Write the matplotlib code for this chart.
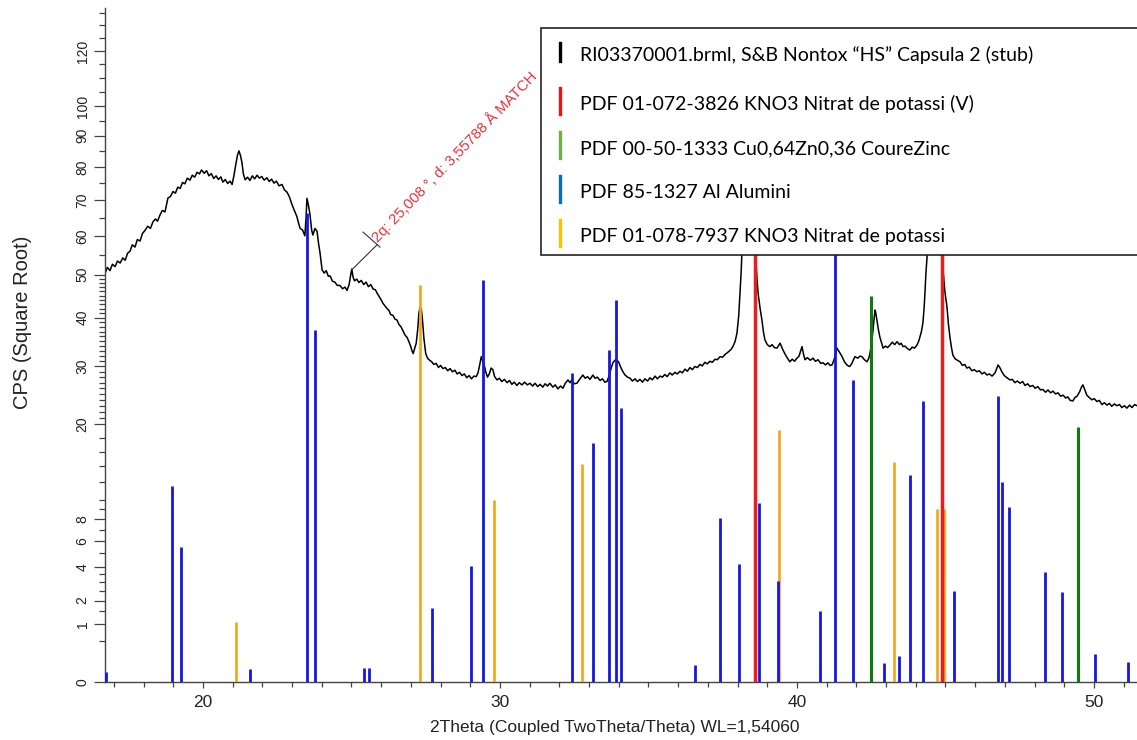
import numpy as np
import matplotlib
matplotlib.use("Agg")
import matplotlib.pyplot as plt
from matplotlib.lines import Line2D
from matplotlib.patches import Rectangle

# ---------------- data ----------------
two_theta = [
16.70,16.78,16.87,16.95,17.04,17.12,17.21,17.30,17.38,17.46,17.54,17.62,17.71,17.79,17.88,17.96,
18.05,18.14,18.23,18.32,18.40,18.47,18.55,18.63,18.72,18.78,18.82,18.90,18.99,19.07,19.15,19.23,
19.31,19.39,19.47,19.56,19.64,19.72,19.80,19.88,19.95,20.04,20.12,20.20,20.28,20.36,20.44,20.52,
20.60,20.67,20.75,20.83,20.91,20.98,21.04,21.10,21.16,21.21,21.26,21.31,21.36,21.42,21.50,21.58,
21.66,21.74,21.82,21.90,21.98,22.06,22.15,22.23,22.31,22.39,22.47,22.56,22.66,22.74,22.83,22.91,
23.00,23.08,23.16,23.22,23.27,23.35,23.43,23.47,23.50,23.55,23.60,23.66,23.70,23.77,23.84,23.89,
23.94,24.01,24.08,24.15,24.22,24.28,24.36,24.44,24.52,24.61,24.70,24.78,24.85,24.92,24.97,25.01,
25.05,25.10,25.18,25.25,25.33,25.41,25.49,25.57,25.65,25.73,25.80,25.86,25.93,26.00,26.06,26.13,
26.20,26.26,26.32,26.40,26.46,26.53,26.60,26.67,26.73,26.80,26.87,26.94,26.99,27.04,27.08,27.13,
27.18,27.23,27.27,27.31,27.35,27.39,27.44,27.50,27.56,27.63,27.70,27.77,27.85,27.93,28.00,28.08,
28.16,28.24,28.32,28.40,28.48,28.56,28.64,28.72,28.80,28.88,28.96,29.04,29.12,29.20,29.26,29.32,
29.37,29.42,29.46,29.52,29.58,29.64,29.70,29.76,29.82,29.90,29.98,30.06,30.15,30.24,30.32,30.40,
30.48,30.57,30.65,30.74,30.83,30.92,31.01,31.10,31.18,31.27,31.35,31.44,31.52,31.60,31.68,31.78,
31.86,31.95,32.04,32.12,32.20,32.29,32.36,32.42,32.50,32.59,32.68,32.79,32.87,32.95,33.03,33.13,
33.20,33.28,33.37,33.45,33.53,33.60,33.66,33.70,33.75,33.80,33.87,33.94,34.00,34.04,34.12,34.21,
34.30,34.38,34.46,34.55,34.63,34.71,34.80,34.88,34.97,35.05,35.13,35.22,35.30,35.39,35.47,35.55,
35.63,35.72,35.80,35.89,35.97,36.06,36.14,36.23,36.31,36.40,36.48,36.56,36.65,36.73,36.81,36.90,
36.98,37.07,37.15,37.24,37.32,37.41,37.50,37.57,37.64,37.72,37.79,37.85,37.92,37.98,38.04,38.08,
38.12,38.15,38.22,38.30,38.38,38.46,38.53,38.60,38.65,38.69,38.76,38.82,38.87,38.92,39.00,39.09,
39.16,39.24,39.33,39.38,39.43,39.48,39.53,39.60,39.68,39.76,39.84,39.92,40.00,40.07,40.13,40.17,
40.22,40.27,40.35,40.45,40.54,40.62,40.71,40.80,40.88,40.96,41.04,41.12,41.18,41.23,41.28,41.35,
41.43,41.52,41.60,41.68,41.73,41.78,41.85,41.95,42.05,42.12,42.19,42.27,42.36,42.42,42.46,42.51,
42.56,42.60,42.63,42.66,42.69,42.74,42.79,42.85,42.90,42.98,43.05,43.13,43.21,43.29,43.37,43.45,
43.51,43.57,43.64,43.72,43.80,43.88,43.96,44.04,44.10,44.14,44.19,44.24,44.28,44.31,44.34,44.38,
44.44,44.52,44.60,44.68,44.76,44.84,44.92,44.98,45.05,45.10,45.15,45.20,45.25,45.32,45.40,45.49,
45.57,45.65,45.72,45.80,45.89,45.97,46.06,46.14,46.23,46.31,46.40,46.48,46.57,46.67,46.72,46.77,
46.83,46.90,46.98,47.07,47.17,47.25,47.34,47.42,47.51,47.60,47.68,47.77,47.85,47.94,48.02,48.11,
48.20,48.28,48.37,48.45,48.54,48.62,48.71,48.79,48.88,48.96,49.05,49.12,49.20,49.29,49.36,49.43,
49.52,49.58,49.63,49.70,49.76,49.84,49.93,50.01,50.10,50.18,50.27,50.35,50.44,50.52,50.60,50.69,
50.77,50.86,50.94,51.03,51.11,51.20,51.28,51.37,51.45]

cps = [
50.3,51.8,51.0,52.6,52.0,53.4,52.9,54.2,53.6,55.4,55.9,57.6,57.0,59.0,58.6,60.6,
61.5,62.6,62.0,63.9,64.6,64.0,65.7,67.0,66.6,69.0,70.6,71.0,72.5,72.0,73.8,73.4,
75.2,74.8,76.5,75.9,77.4,76.8,78.3,77.8,79.0,78.0,78.8,77.2,77.9,76.4,77.2,76.1,
76.9,75.3,76.1,74.9,75.6,74.6,77.2,80.5,83.6,85.0,83.6,81.4,77.8,76.0,76.8,75.8,
77.2,76.3,77.4,76.5,77.0,75.9,76.6,75.5,76.2,75.0,75.6,74.2,74.6,73.0,72.3,70.9,
68.6,66.9,65.3,63.4,62.0,61.6,60.0,65.0,70.5,68.5,66.0,61.5,60.2,62.0,61.2,58.0,
55.5,51.2,50.4,51.0,49.6,49.7,48.4,48.2,47.4,47.4,46.6,47.0,46.2,47.6,49.8,51.4,
49.5,48.5,48.9,48.1,48.6,47.6,48.2,47.1,47.6,46.5,46.4,45.6,44.8,44.0,43.2,42.6,
42.0,41.6,40.7,40.5,39.7,39.5,38.5,38.0,37.2,36.3,35.8,34.8,34.0,33.0,32.5,33.6,
34.6,37.5,41.0,42.3,42.0,39.5,35.5,32.5,31.6,31.2,30.9,30.4,30.6,29.8,30.2,29.6,
29.8,29.2,29.6,29.0,29.3,28.6,28.9,28.3,28.6,27.9,28.3,27.7,28.2,28.1,28.8,30.4,
31.9,31.0,30.5,29.0,28.0,28.6,29.7,29.4,28.1,27.5,27.8,27.2,27.6,27.0,27.4,26.7,
27.1,26.5,27.0,26.6,27.1,26.6,26.9,26.4,26.9,26.3,26.7,26.2,26.8,26.4,26.9,26.2,
26.6,25.9,26.4,26.0,26.9,27.5,27.0,27.5,26.8,26.9,27.6,28.4,27.8,28.1,27.6,28.4,
27.8,28.0,27.4,27.7,27.1,27.2,28.0,28.8,29.8,30.7,31.2,31.2,30.8,30.2,29.2,28.4,
28.0,27.8,27.3,27.7,27.2,27.6,27.1,27.7,27.3,27.9,27.5,28.2,27.7,28.2,28.0,28.5,
28.1,28.8,28.4,28.9,28.6,29.1,28.8,29.5,29.1,29.8,29.4,30.0,29.8,30.4,30.1,30.8,
30.5,31.0,30.8,31.4,31.3,31.9,31.8,32.3,32.6,33.0,33.4,34.0,35.0,36.7,40.5,45.6,
50.5,56.3,72.0,95.0,112.0,95.0,72.0,56.0,49.5,45.6,42.0,39.5,37.0,35.3,34.3,33.9,
34.3,33.7,33.6,34.1,34.6,33.9,33.2,32.4,31.6,30.9,31.4,31.0,31.6,32.0,33.1,33.9,
32.4,31.3,31.7,31.2,31.6,31.0,31.3,30.6,30.7,30.3,30.7,30.2,30.3,31.0,31.9,33.6,
32.8,31.9,30.9,30.3,30.1,30.0,30.6,31.9,31.6,32.0,31.9,31.3,30.9,31.6,32.6,34.5,
37.3,40.0,41.7,40.8,39.5,37.5,35.9,34.6,33.6,34.0,33.7,34.2,34.8,34.3,34.9,34.3,
34.6,33.9,34.0,33.5,33.2,33.8,33.6,34.2,35.0,35.9,37.0,38.8,42.0,45.6,50.0,54.4,
66.0,90.0,115.0,100.0,80.0,62.0,51.2,46.0,42.5,38.6,35.9,33.8,32.2,31.5,31.2,30.9,
30.2,30.4,29.7,29.9,29.2,29.4,29.0,29.2,28.6,28.9,28.4,28.6,28.2,28.8,29.5,30.3,
29.8,29.0,28.3,27.9,27.5,27.6,27.0,27.3,26.9,27.2,26.5,26.8,26.3,26.5,26.0,26.3,
25.7,25.8,25.3,25.7,25.2,25.5,25.0,25.2,24.6,24.8,24.3,24.5,23.9,23.8,24.4,24.6,
25.4,26.2,26.6,25.6,24.8,24.4,24.0,24.2,23.7,23.9,23.2,23.5,23.1,23.4,22.9,23.3,
23.0,23.2,22.7,23.0,22.6,23.1,22.7,23.2,23.0]

# reference patterns (stick positions, 2theta, and heights)
al_pos = [16.72, 18.96, 19.26, 21.58, 23.50, 23.77, 25.42, 25.59, 27.71, 29.02, 29.43,
          32.42, 33.13, 33.67, 33.90, 34.07, 36.57, 37.41, 38.05, 38.72, 39.36, 40.77,
          41.28, 41.89, 42.93, 43.43, 43.80, 44.24, 45.29, 46.77, 46.90, 47.14, 48.35,
          48.92, 50.03, 51.14]
al_int = [0.03, 11.6, 5.5, 0.05, 66.3, 37.3, 0.06, 0.06, 1.65, 4.06, 48.7,
          28.8, 17.2, 33.2, 44.0, 22.6, 0.09, 8.1, 4.2, 9.7, 3.1, 1.5,
          100.0, 27.5, 0.11, 0.20, 12.9, 23.8, 2.5, 24.6, 12.1, 9.2, 3.65,
          2.45, 0.24, 0.12]

kno3v_pos = [38.59, 44.88]
kno3v_int = [120.0, 120.0]

cuzn_pos = [42.49, 49.46]
cuzn_int = [44.9, 19.6]

kno3_pos = [21.11, 27.31, 29.80, 32.76, 39.39, 43.27, 44.71, 44.95]
kno3_int = [1.09, 47.5, 10.0, 14.3, 19.1, 14.6, 9.0, 9.0]

legend_labels = [
    "RI03370001.brml, S&B Nontox \u201cHS\u201d Capsula 2 (stub)",
    "PDF 01-072-3826 KNO3 Nitrat de potassi (V)",
    "PDF 00-50-1333 Cu0,64Zn0,36 CoureZinc",
    "PDF 85-1327 Al Alumini",
    "PDF 01-078-7937 KNO3 Nitrat de potassi",
]
legend_colors = ["#000000", "#ee1111", "#70ad47", "#0070c0", "#ffc000"]

y_major = [0, 1, 2, 4, 6, 8, 20, 30, 40, 50, 60, 70, 80, 90, 100, 120]
y_minor = ([0.5, 1.5, 2.5, 3, 3.5, 5, 7, 9, 10, 12, 14, 16, 18]
           + list(range(21, 30)) + list(range(31, 40)) + list(range(41, 50))
           + [55, 65, 75, 85, 95, 105, 110, 115, 125, 130, 135])
x_major = [20, 30, 40, 50]
x_minor = list(range(17, 52))

annot_text = "2q: 25,008 \u00b0, d: 3,55788 \u00c5 MATCH"

# ---------------- figure ----------------
plt.rcParams["font.family"] = ["Liberation Sans", "DejaVu Sans"]
W, H = 1137, 740
fig = plt.figure(figsize=(W / 100, H / 100), dpi=100)
ax = fig.add_axes([105 / W, (H - 682) / H, 1 - 105 / W, (682 - 8) / H])

ax.set_yscale("function", functions=(lambda v: np.sqrt(np.maximum(v, 0)),
                                      lambda s: np.square(s)))
ax.set_xlim(16.70, 51.45)
ax.set_ylim(0, 136.9)

ax.plot(two_theta, cps, color="black", lw=1.1, zorder=2)

ax.vlines(kno3_pos, 0, kno3_int, colors="#f5a418", lw=1.9, zorder=3)
ax.vlines(al_pos, 0, al_int, colors="#1616e0", lw=2.0, zorder=4)
ax.vlines(cuzn_pos, 0, cuzn_int, colors="#0f7a12", lw=2.2, zorder=4)
ax.vlines(kno3v_pos, 0, kno3v_int, colors="#ee1c1c", lw=2.5, zorder=5)

# peak marker annotation
ax.plot([25.01, 25.86], [51.2, 57.6], color="#333333", lw=0.8, zorder=6)
ax.plot([25.39, 25.96], [61.0, 57.0], color="#333333", lw=0.8, zorder=6)
ax.text(25.88, 58.0, annot_text, rotation=46, rotation_mode="anchor",
        ha="left", va="baseline", color="#e5323c", fontsize=10.8, zorder=6)

# axes styling
for s in ["top", "right"]:
    ax.spines[s].set_visible(False)
for s in ["left", "bottom"]:
    ax.spines[s].set_color("#444444")
    ax.spines[s].set_linewidth(1.0)

ax.set_yticks(y_major)
ax.set_yticklabels([str(v) for v in y_major])
ax.set_yticks(y_minor, minor=True)
ax.set_xticks(x_major)
ax.set_xticks(x_minor, minor=True)
ax.tick_params(axis="y", which="major", length=8, width=0.9, color="#444444",
               labelsize=10, labelcolor="#222222", pad=3)
ax.tick_params(axis="y", which="minor", length=4, width=0.9, color="#444444")
ax.tick_params(axis="x", which="major", length=4.5, width=0.9, color="#444444",
               labelsize=12.5, labelcolor="#222222", pad=5)
ax.tick_params(axis="x", which="minor", length=3.5, width=0.9, color="#444444")
for lab in ax.get_yticklabels():
    lab.set_rotation(90)
    lab.set_va("center")

ax.set_xlabel("2Theta (Coupled TwoTheta/Theta) WL=1,54060", fontsize=12.5,
              color="#222222")
ax.xaxis.set_label_coords(0.494, -0.068)
ax.xaxis.label.set_va("center")
ax.set_ylabel("CPS (Square Root)", fontsize=14.5, color="#222222")
ax.yaxis.set_label_coords(-0.080, 0.533)
ax.yaxis.label.set_va("center")
ax.yaxis.label.set_ha("center")

# ---------------- legend box (drawn on top of the axes) ----------------
def fx(px):
    return px / W

def fy(py):
    return 1 - py / H

box = Rectangle((fx(541), fy(255)), fx(1160) - fx(541), fy(28) - fy(255),
                transform=fig.transFigure, facecolor="white", edgecolor="#222222",
                lw=1.2, zorder=10)
fig.add_artist(box)
baselines = [61, 110, 154, 198, 242]
handle_half = [9, 13, 13, 13, 13]
for lab, col, base, hh in zip(legend_labels, legend_colors, baselines, handle_half):
    yc = base - 9
    fig.add_artist(Line2D([fx(560), fx(560)], [fy(yc - hh), fy(yc + hh)],
                          transform=fig.transFigure, color=col, lw=2.4, zorder=11))
    fig.text(fx(580), fy(base), lab, ha="left", va="baseline", fontsize=14,
             family=["Lato", "DejaVu Sans"], color="black", zorder=12)

fig.savefig("out.png", dpi=100)
